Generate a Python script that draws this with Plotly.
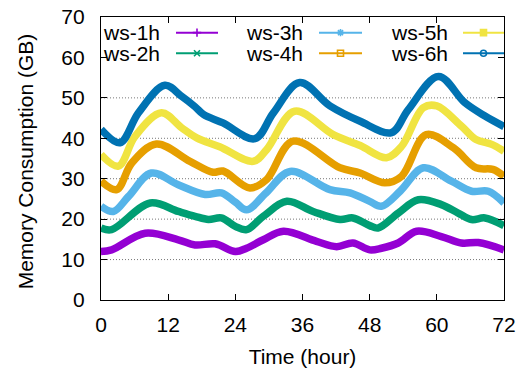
import plotly.graph_objects as go

# ---------------- data ----------------
h1 = [0, 1.9, 7.9, 13.8, 16.8, 20.4, 24, 26, 29, 32.6, 38.5, 42.1, 45, 48, 50.1, 53.1, 56.4, 60.8, 64.4, 67.4, 72]
ws1 = [12, 12.4, 16.5, 14.9, 13.6, 13.9, 12, 12.8, 14.9, 17, 14.5, 13.2, 14.1, 12.4, 12.8, 14.1, 17, 15.7, 14.1, 14.2, 12.4]

h2 = [0, 1.9, 8.8, 13.8, 16.8, 19.2, 21.5, 24, 26, 29, 33.2, 37.9, 42.7, 45, 48, 49.5, 53.1, 56.7, 60.8, 63.8, 66.2, 68.6, 72]
ws2 = [17.8, 17.4, 24, 21.9, 20.7, 19.9, 20.3, 18.2, 17.4, 20.7, 24.4, 21.9, 19.9, 20.3, 18.4, 17.8, 21.5, 24.8, 23.6, 21.5, 19.9, 20.3, 18.4]

h3 = [0, 2.2, 4.9, 9, 13.8, 18.6, 21.5, 24, 26, 29.5, 33.8, 40.9, 44.5, 48, 50.1, 53.5, 57.6, 62.6, 66.2, 69.2, 72]
ws3 = [23.2, 21.9, 25.6, 31.4, 28.5, 26.1, 26.5, 24.2, 22.3, 26.5, 31.8, 27.3, 26.5, 24.4, 23.2, 27, 32.7, 29.4, 26.9, 26.9, 24]

h4 = [0, 2.8, 5.5, 9.9, 15.9, 20, 21.8, 26.6, 29.6, 34.3, 42.7, 46.3, 50.7, 53.7, 58.1, 63, 67, 70, 72]
ws4 = [29.4, 27.3, 33.9, 38.6, 34.3, 31.6, 31.9, 27.7, 29.8, 39.3, 32.7, 31.4, 29, 30.6, 40.9, 37.6, 32.7, 32.3, 30.6]

h5 = [0, 3.1, 6.1, 10.8, 14.4, 17.1, 21.2, 27.2, 29.6, 34.6, 41.5, 46.3, 51, 53.7, 57.6, 60, 64.4, 67, 69.8, 72]
ws5 = [36, 33.1, 40.5, 46.3, 42.6, 40.1, 37.9, 34.3, 37.2, 46.7, 40.9, 38.2, 35.2, 38, 47.6, 48, 43, 39.7, 38.5, 36.8]

h6 = [0, 3.4, 6.7, 11.4, 14.4, 16.8, 18.3, 21.8, 27.5, 30.8, 35.5, 40.9, 46.3, 51.9, 54.9, 60.3, 65, 68.6, 72]
ws6 = [42.2, 38.9, 46.3, 53.1, 50.4, 47.8, 45.9, 43.8, 39.9, 46.3, 53.8, 48, 44.2, 41.4, 47.1, 55.3, 48.8, 45.5, 42.9]

series_names = ["ws-1h", "ws-2h", "ws-3h", "ws-4h", "ws-5h", "ws-6h"]
x_ticks = [0, 12, 24, 36, 48, 60, 72]
y_ticks = [0, 10, 20, 30, 40, 50, 60, 70]
grid_vals = [10, 20, 30, 40, 50]

# ---------------- style ----------------
colors = ["#9400D3", "#009E73", "#56B4E9", "#E69F00", "#F0E442", "#0072B2"]
symbols = ["cross-thin-open", "x-thin-open", "asterisk-open", "square-open", "square", "circle-open"]
FONT = "Liberation Sans, Arial, Helvetica, sans-serif"
FS = 21

xs = [h1, h2, h3, h4, h5, h6]
ys = [ws1, ws2, ws3, ws4, ws5, ws6]

fig = go.Figure()

# dotted grid lines (60 is hidden under the key in the reference)
for g in grid_vals:
    fig.add_shape(type="line", xref="x", yref="y", x0=0, x1=72, y0=g, y1=g,
                  line=dict(color="#777777", width=1, dash="1px,2px"), layer="below")

for xv, yv, c, n in zip(xs, ys, colors, series_names):
    fig.add_trace(go.Scatter(x=xv, y=yv, mode="lines", name=n,
                             line=dict(color=c, width=7.5, shape="spline", smoothing=1.0),
                             showlegend=False, xaxis="x", yaxis="y"))

# ---------------- custom key (text left, sample right, column-major) ----------------
# legend axes map 1:1 to pixel coordinates of the plot area
key_cols_text = [162, 305, 449.5]
key_cols_line = [(176, 218), (319, 362), (463, 504)]
key_rows = [32.7, 53.3]
for i, (n, c, s) in enumerate(zip(series_names, colors, symbols)):
    col, row = i // 2, i % 2
    x0, x1 = key_cols_line[col]
    yy = key_rows[row]
    fig.add_trace(go.Scatter(x=[x0, (x0 + x1) / 2, x1], y=[yy, yy, yy], mode="lines",
                             line=dict(color=c, width=2), showlegend=False,
                             xaxis="x2", yaxis="y2", hoverinfo="skip"))
    fig.add_trace(go.Scatter(x=[(x0 + x1) / 2], y=[yy], mode="markers",
                             marker=dict(symbol=s, size=6, color=c, line=dict(color=c, width=1.6)),
                             showlegend=False, xaxis="x2", yaxis="y2", hoverinfo="skip"))
    fig.add_annotation(x=key_cols_text[col], y=yy, xref="x2", yref="y2", text=n,
                       showarrow=False, xanchor="right", yanchor="middle",
                       font=dict(family=FONT, size=FS, color="black"))

# y-axis title placed as rotated text left of the tick labels
fig.add_annotation(x=-76 / 403, y=0.49, xref="paper", yref="paper",
                   text="Memory Consumption (GB)", textangle=-90, showarrow=False,
                   xanchor="center", yanchor="middle",
                   font=dict(family=FONT, size=FS, color="black"))

fig.update_layout(
    width=523, height=371,
    margin=dict(l=101, r=19, t=17, b=71, autoexpand=False),
    paper_bgcolor="white", plot_bgcolor="white",
    font=dict(family=FONT, size=FS, color="black"),
    showlegend=False,
    xaxis=dict(range=[0, 72], tickvals=x_ticks, ticktext=[str(v) for v in x_ticks],
               ticks="inside", ticklen=6, tickcolor="black", showline=True,
               linecolor="black", linewidth=1.2, mirror="ticks", showgrid=False,
               zeroline=False, ticklabelstandoff=6,
               title=dict(text="Time (hour)", standoff=13, font=dict(size=FS))),
    yaxis=dict(range=[0, 70], tickvals=y_ticks, ticktext=[str(v) for v in y_ticks],
               ticks="inside", ticklen=6, tickcolor="black", showline=True,
               linecolor="black", linewidth=1.2, mirror="ticks", showgrid=False,
               zeroline=False, ticklabelstandoff=11),
    xaxis2=dict(domain=[0, 1], range=[101, 504], visible=False, anchor="y2", overlaying="x"),
    yaxis2=dict(domain=[0, 1], range=[300.5, 17], visible=False, anchor="x2", overlaying="y"),
)

fig.write_html("out.html", config={"displayModeBar": False, "staticPlot": True},
               post_script="document.body.style.margin='0';document.body.style.overflow='hidden';")
